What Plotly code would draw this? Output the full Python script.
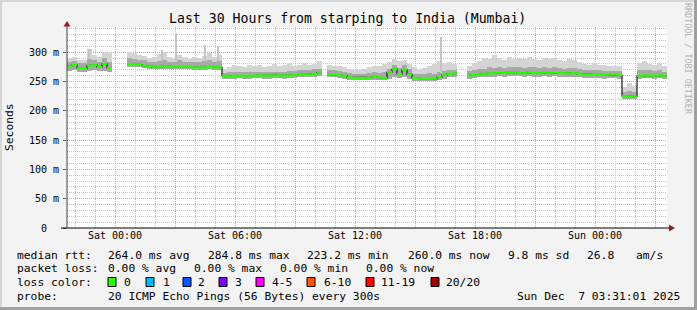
import plotly.graph_objects as go

# ---------------- data (hours relative to Sat 00:00, 15-minute steps) ----------------
START_H = -2.4
STEP_H = 0.25
N = None

median = [276, 278, 273, 272, 277, 278, 275, 280, 273,
          N, N, N,
          280, 279.5, 279, 277, 276, 274.5, 275, 276, 275.5, 275, 275, 275, 274.5, 274, 274, 274, 274.5, 274, 274,
          260, 259, 259.5, 260, 260, 259.5, 260, 260.5, 260, 260, 260, 260.5, 260, 260, 261, 262, 262, 262, 263, 265,
          N,
          262, 262, 261, 260, 257, 256.5, 256, 256, 257, 258.5, 257, 256, 266, 271, 263, 270, 262, 256, 255, 254.5,
          254.5, 255, 258, 261, 263, 264,
          N, N,
          260, 261, 262, 263, 264, 264, 265, 264.5, 265.5, 266, 265, 264, 265.5, 264.5, 264, 265, 264, 265, 264.5, 264,
          264, 264.5, 263, 262, 262, 262.5, 262, 261.5, 262, 262, 261, 225, 224, 224.5, 260, 260.5, 260.5, 260, 260.5, 260]

smoke_lo = [268, 269, 267, 266, 268, 269, 268, 268, 266,
            N, N, N,
            275, 275, 274, 273, 272, 271, 271, 272, 272, 271, 271, 271, 271, 270, 270, 270, 271, 270, 270,
            255, 255, 255, 256, 255, 255, 256, 256, 255, 255, 256, 256, 255, 256, 256, 257, 258, 258, 258, 259,
            N,
            257, 257, 256, 255, 253, 252, 252, 252, 252, 253, 252, 252, 254, 258, 256, 258, 255, 251, 251, 251,
            251, 251, 253, 255, 257, 258,
            N, N,
            255, 256, 257, 258, 258, 258, 259, 258, 259, 260, 259, 258, 259, 258, 258, 259, 258, 259, 258, 258,
            258, 258, 257, 256, 256, 256, 256, 255, 256, 256, 255, 220, 220, 220, 255, 256, 256, 255, 256, 255]

smoke_mid = [283, 285, 282, 281, 288, 286, 284, 290, 283,
             N, N, N,
             290, 289, 287, 286, 284, 283, 285, 286, 284, 283, 286, 284, 283, 284, 283, 285, 286, 284, 285,
             265, 266, 266, 267, 266, 267, 266, 267, 266, 267, 267, 266, 267, 268, 268, 269, 269, 270, 271, 272,
             N,
             270, 269, 268, 267, 264, 263, 263, 263, 264, 266, 265, 266, 272, 278, 273, 278, 272, 263, 263, 263,
             264, 263, 266, 268, 270, 270,
             N, N,
             268, 270, 271, 272, 274, 273, 274, 273, 275, 275, 274, 273, 275, 274, 273, 275, 273, 274, 273, 272,
             273, 273, 271, 270, 269, 270, 269, 268, 268, 268, 268, 232, 234, 232, 270, 270, 269, 268, 269, 267]

smoke_max = [288, 292, 287, 286, 306, 295, 292, 301, 298,
             N, N, N,
             301, 298, 296, 293, 290, 291, 297, 300, 292, 290, 296, 291, 289, 292, 290, 293, 298, 291, 296,
             272, 275, 278, 276, 274, 279, 276, 278, 275, 277, 280, 276, 278, 281, 277, 279, 281, 278, 280, 285,
             N,
             279, 277, 276, 274, 272, 272, 270, 271, 274, 277, 276, 280, 283, 288, 285, 287, 280, 274, 272, 273,
             276, 280, 285, 282, 284, 280,
             N, N,
             276, 282, 285, 290, 288, 295, 290, 286, 292, 289, 290, 288, 291, 289, 287, 290, 288, 290, 286, 285,
             288, 287, 284, 280, 279, 282, 278, 278, 277, 276, 277, 240, 248, 242, 282, 285, 280, 279, 281, 276]

spike_hours = [-1.3, 2.35, 3.05, 4.5, 5.15, 16.33]
spike_bases = [288, 286, 286, 285, 285, 264]
spike_tops = [306, 303, 332, 312, 311, 326]

x_tick_vals = [0, 3, 6, 9, 12, 15, 18, 21, 24, 27]
x_tick_text = ["Sat 00:00", "", "Sat 06:00", "", "Sat 12:00", "", "Sat 18:00", "", "Sun 00:00", ""]
y_tick_vals = [0, 50, 100, 150, 200, 250, 300]
y_tick_text = ["0\u00a0\u00a0", "50 m", "100 m", "150 m", "200 m", "250 m", "300 m"]

title_text = "Last 30 Hours from starping to India (Mumbai)"
legend_rtt = [("median rtt:", 16), ("264.0 ms avg", 107), ("284.8 ms max", 207), ("223.2 ms min", 306),
              ("260.0 ms now", 407), ("9.8 ms sd", 507), ("26.8", 586), ("am/s", 635)]
legend_loss = [("packet loss:", 16), ("0.00 % avg", 107), ("0.00 % max", 193), ("0.00 % min", 279),
               ("0.00 % now", 365)]
loss_labels = ["0", "1", "2", "3", "4-5", "6-10", "11-19", "20/20"]
loss_colors = ["#26ff00", "#00b8ff", "#0059ff", "#7e00ff", "#ff00ff", "#ff5500", "#ff0000", "#a00000"]
loss_box_x = [108, 146, 183, 219, 256, 307, 366, 431]
loss_text_x = [123, 162, 197, 234, 271, 323, 380, 445]
probe_text = "20 ICMP Echo Pings (56 Bytes) every 300s"
stamp_text = "Sun Dec  7 03:31:01 2025"

# ---------------- layout geometry ----------------
W, H = 697, 310
L, R, T, B = 67, 30, 27, 82
PW, PH = W - L - R, H - T - B
FONT = "DejaVu Sans Mono"


def px(xp):
    return (xp - L) / PW


def py(yp):
    return (H - B - yp) / PH


hours = [START_H + STEP_H * i for i in range(len(median))]

fig = go.Figure()


def band(lo, hi, color):
    xs, bases, hts = [], [], []
    for h, a, b in zip(hours, lo, hi):
        if a is None or b is None:
            continue
        xs.append(h)
        bases.append(a)
        hts.append(b - a)
    fig.add_trace(go.Bar(x=xs, y=hts, base=bases, width=STEP_H, offset=0,
                         marker=dict(color=color, line=dict(width=0)),
                         hoverinfo="skip", showlegend=False))


band(smoke_lo, smoke_max, "#d4d4d4")
band(smoke_lo, smoke_mid, "#a8a8a8")

fig.add_trace(go.Bar(x=spike_hours, y=[t - b for t, b in zip(spike_tops, spike_bases)], base=spike_bases,
                     width=0.075, offset=-0.0375, marker=dict(color="#c4c4c4", line=dict(width=0)),
                     hoverinfo="skip", showlegend=False))

# continuous median (with vertical transitions) and horizontal-only green steps
mx, my, gx, gy = [], [], [], []
for h, v in zip(hours, median):
    if v is None:
        mx.append(None)
        my.append(None)
        continue
    mx += [h, h + STEP_H]
    my += [v, v]
    gx += [h, h + STEP_H, None]
    gy += [v, v, None]

fig.add_trace(go.Scatter(x=mx, y=my, mode="lines", line=dict(color="#1a1a1a", width=1.2),
                         hoverinfo="skip", showlegend=False, connectgaps=False))
fig.add_trace(go.Scatter(x=gx, y=gy, mode="lines", line=dict(color="#26ff00", width=2.2),
                         hoverinfo="skip", showlegend=False, connectgaps=False))

shapes = []
# axis lines and arrows
shapes.append(dict(type="line", xref="paper", yref="paper", x0=px(61), x1=px(669), y0=py(228), y1=py(228),
                   line=dict(color="#000000", width=1), layer="above"))
shapes.append(dict(type="line", xref="paper", yref="paper", x0=px(67), x1=px(67), y0=py(228), y1=py(24),
                   line=dict(color="#404040", width=1), layer="above"))
shapes.append(dict(type="path", xref="paper", yref="paper",
                   path=f"M {px(67)} {py(21)} L {px(70.5)} {py(26.5)} L {px(63.5)} {py(26.5)} Z",
                   fillcolor="#9b1b1b", line=dict(width=0), layer="above"))
shapes.append(dict(type="path", xref="paper", yref="paper",
                   path=f"M {px(675)} {py(228)} L {px(669)} {py(224.5)} L {px(669)} {py(231.5)} Z",
                   fillcolor="#9b1b1b", line=dict(width=0), layer="above"))
# frame
shapes.append(dict(type="rect", xref="paper", yref="paper", x0=px(0), x1=px(W), y0=py(0), y1=py(2),
                   fillcolor="#d6d6d6", line=dict(width=0)))
shapes.append(dict(type="rect", xref="paper", yref="paper", x0=px(0), x1=px(2), y0=py(0), y1=py(H),
                   fillcolor="#d6d6d6", line=dict(width=0)))
shapes.append(dict(type="rect", xref="paper", yref="paper", x0=px(694), x1=px(W), y0=py(0), y1=py(H),
                   fillcolor="#a0a0a0", line=dict(width=0)))
shapes.append(dict(type="rect", xref="paper", yref="paper", x0=px(0), x1=px(W), y0=py(307), y1=py(H),
                   fillcolor="#a0a0a0", line=dict(width=0)))
# loss colour boxes
for bx, col in zip(loss_box_x, loss_colors):
    shapes.append(dict(type="rect", xref="paper", yref="paper", x0=px(bx), x1=px(bx + 8),
                       y0=py(286.5), y1=py(277.5), fillcolor=col, line=dict(color="#000000", width=1)))

ann = []
LF = 11.3


def text(s, xp, yp, anchor="left", size=LF, color="#000000", angle=0):
    ann.append(dict(text=s.replace(" ", "\u00a0"), xref="paper", yref="paper", x=px(xp), y=py(yp),
                    xanchor=anchor, yanchor="middle", showarrow=False, textangle=angle,
                    font=dict(family=FONT, size=size, color=color), borderpad=0))


text(title_text, 347, 18, anchor="center", size=13.2)
text("Seconds", 10, 127, anchor="center", size=LF, angle=-90)
text("RRDTOOL / TOBI OETIKER", 688, 59, anchor="center", size=8.4, color="#b0b0b0", angle=90)
for s, xp in legend_rtt:
    text(s, xp, 255)
for s, xp in legend_loss:
    text(s, xp, 268)
text("loss color:", 16, 282)
for s, xp in zip(loss_labels, loss_text_x):
    text(s, xp, 282)
text("probe:", 16, 296)
text(probe_text, 107, 296)
text(stamp_text, 681, 296, anchor="right")

MAJOR_GRID = "#ec9c9c"
MINOR_GRID = "#c4c4c4"
DOTS = "1px,1px"

fig.update_layout(
    width=W, height=H, margin=dict(l=L, r=R, t=T, b=B, pad=0),
    paper_bgcolor="#f3f3f3", plot_bgcolor="#ffffff",
    barmode="overlay", bargap=0, showlegend=False,
    shapes=shapes, annotations=ann,
    xaxis=dict(range=[START_H, START_H + 30], tickmode="array", tickvals=x_tick_vals, ticktext=x_tick_text,
               showgrid=True, gridcolor=MAJOR_GRID, griddash=DOTS, gridwidth=1, zeroline=False, showline=False,
               ticks="", tickfont=dict(family=FONT, size=10, color="#000000"),
               minor=dict(tickmode="linear", tick0=0, dtick=1, showgrid=True, gridcolor=MINOR_GRID,
                          griddash=DOTS, gridwidth=1, ticks=""),
               fixedrange=True),
    yaxis=dict(range=[0, 343], tickmode="array", tickvals=y_tick_vals, ticktext=y_tick_text,
               showgrid=True, gridcolor=MAJOR_GRID, griddash=DOTS, gridwidth=1, zeroline=False, showline=False,
               ticks="outside", ticklen=3, tickcolor="#606060", ticklabelstandoff=2,
               tickfont=dict(family=FONT, size=10, color="#000000"),
               minor=dict(tickmode="linear", tick0=0, dtick=10, showgrid=True, gridcolor=MINOR_GRID,
                          griddash=DOTS, gridwidth=1, ticks=""),
               fixedrange=True),
)

fig.write_html("out.html")
